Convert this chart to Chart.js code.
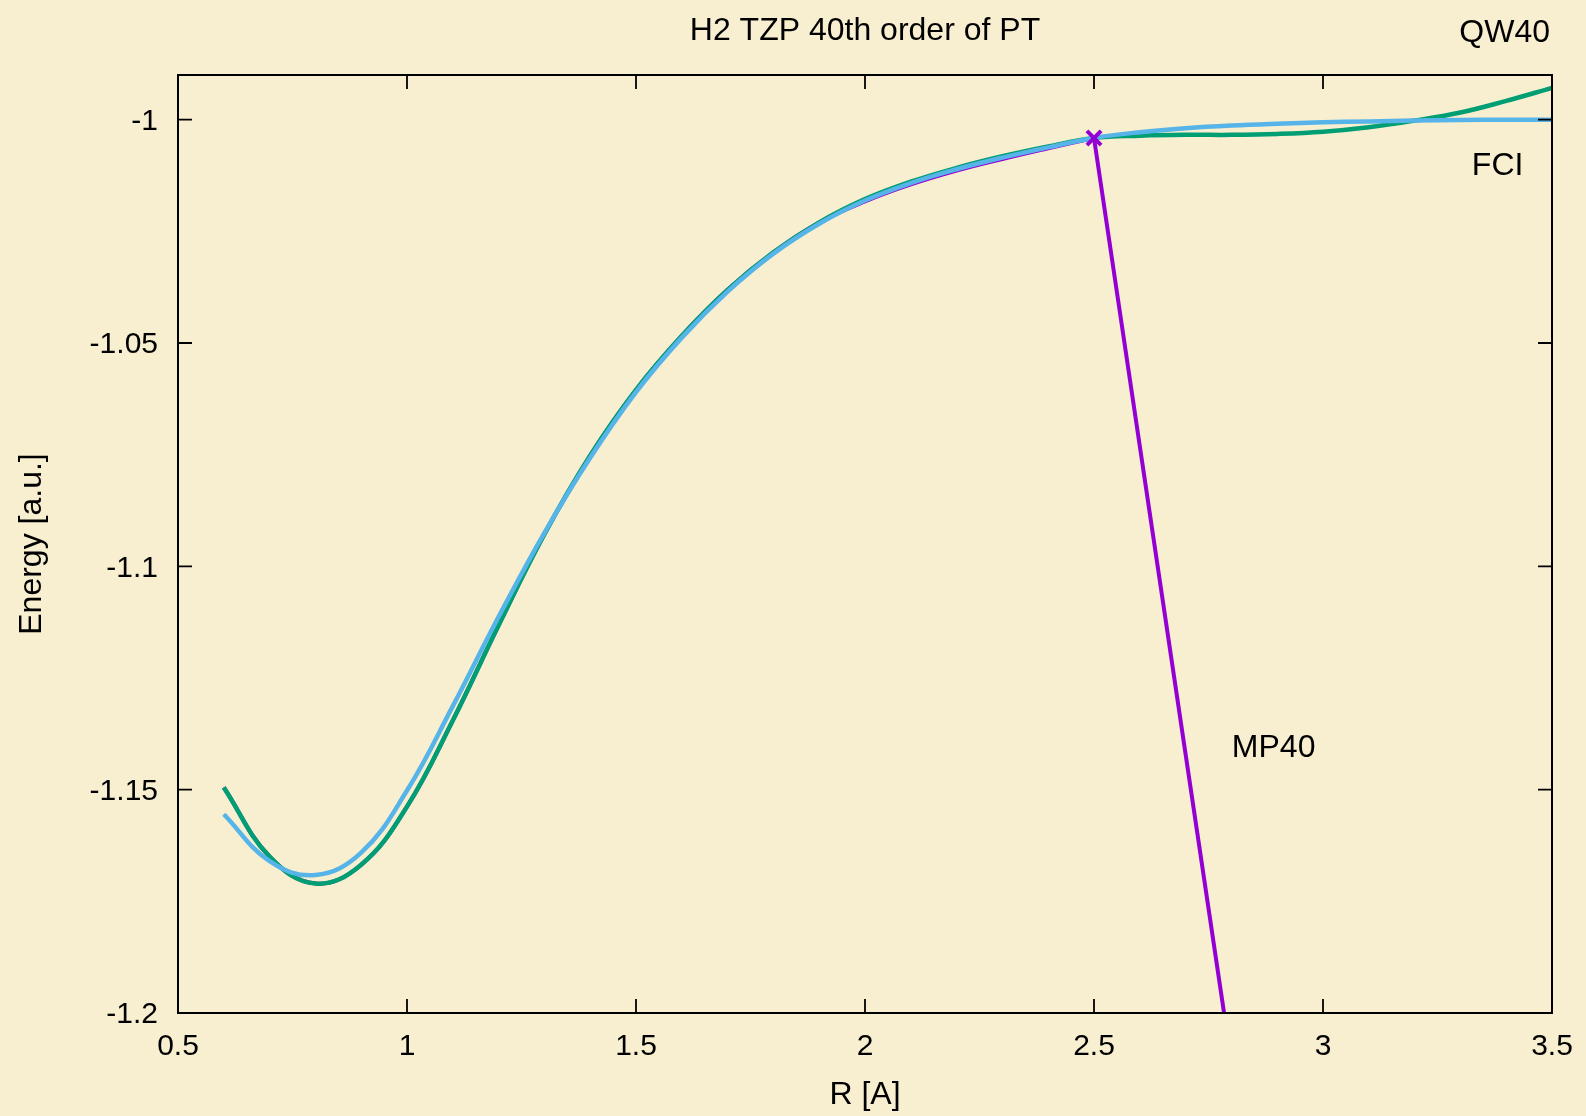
<!DOCTYPE html>
<html>
<head>
<meta charset="utf-8">
<title>H2 TZP 40th order of PT</title>
<script src="https://cdn.jsdelivr.net/npm/chart.js@4.4.1/dist/chart.umd.min.js"></script>
<style>
  html, body { margin: 0; padding: 0; background: #f8efd0; }
  canvas { display: block; }
</style>
</head>
<body>
<canvas id="pes" width="1586" height="1116"></canvas>
<script>
// bond length grid [A]
const rGrid = [0.6, 0.7, 0.8, 0.9, 1.0, 1.1, 1.2, 1.3, 1.4, 1.5, 1.6, 1.7, 1.8, 1.9, 2.0,
  2.1, 2.2, 2.3, 2.4, 2.5, 2.6, 2.7, 2.8, 2.9, 3.0, 3.1, 3.2, 3.3, 3.4, 3.5];

const qw40Energy = [-1.1495, -1.1650, -1.1710, -1.1668, -1.1538, -1.1345, -1.1132, -1.0928,
  -1.0752, -1.0605, -1.0484, -1.0381, -1.0297, -1.0230, -1.0178, -1.0139, -1.0108, -1.0082,
  -1.0060, -1.0041, -1.0036, -1.0034, -1.0034, -1.0032, -1.0027, -1.0017, -1.0002, -0.9984,
  -0.9958, -0.9929];

const fciEnergy = [-1.1555, -1.1660, -1.1691, -1.1641, -1.1502, -1.1313, -1.1113, -1.0925,
  -1.0757, -1.0610, -1.0488, -1.0385, -1.0300, -1.0233, -1.0181, -1.0142, -1.0111, -1.0085,
  -1.0062, -1.0041, -1.0028, -1.0019, -1.0013, -1.0009, -1.0006, -1.0004, -1.0002, -1.0001,
  -1.0000, -1.0000];

// MP40 only converges up to 2.5 A, the next point blows up
const mp40R = [0.6, 0.7, 0.8, 0.9, 1.0, 1.1, 1.2, 1.3, 1.4, 1.5, 1.6, 1.7, 1.8, 1.9, 2.0,
  2.1, 2.2, 2.3, 2.4, 2.5, 3.0];
const mp40Energy = [-1.1495, -1.1650, -1.1710, -1.1668, -1.1538, -1.1345, -1.1132, -1.0928,
  -1.0752, -1.0605, -1.0484, -1.0381, -1.0297, -1.0230, -1.0183, -1.0145, -1.0114, -1.0088,
  -1.0064, -1.0041, -1.3490];

const xTicks = [0.5, 1, 1.5, 2, 2.5, 3, 3.5];
const xTickLabels = ['0.5', '1', '1.5', '2', '2.5', '3', '3.5'];
const yTicks = [-1.2, -1.15, -1.1, -1.05, -1];
const yTickLabels = ['-1.2', '-1.15', '-1.1', '-1.05', '-1'];

const chartTitle = 'H2 TZP 40th order of PT';
const cornerLabel = 'QW40';
const curveLabels = [
  { text: 'FCI', r: 3.325, e: -1.0103 },
  { text: 'MP40', r: 2.801, e: -1.1406 },
];

const BG = '#f8efd0';
const PURPLE = '#9400d3';
const GREEN = '#009e73';
const BLUE = '#56b4e9';
const FONT = '"Liberation Sans", Arial, Helvetica, sans-serif';
const TICK = 14;

const toPoints = (xs, ys) => xs.map((x, i) => ({ x, y: ys[i] }));
const mp40Points = toPoints(mp40R, mp40Energy);

const gnuplotFrame = {
  id: 'gnuplotFrame',
  beforeDraw(chart) {
    const { ctx, width, height } = chart;
    ctx.save();
    ctx.fillStyle = BG;
    ctx.fillRect(0, 0, width, height);
    ctx.restore();
  },
  afterDatasetsDraw(chart) {
    const { ctx, chartArea: a, scales: { x, y } } = chart;
    ctx.save();
    ctx.strokeStyle = '#000';
    ctx.lineWidth = 2;
    ctx.strokeRect(a.left, a.top, a.right - a.left, a.bottom - a.top);

    ctx.lineWidth = 1.8;
    ctx.beginPath();
    xTicks.forEach((v) => {
      const px = x.getPixelForValue(v);
      ctx.moveTo(px, a.bottom);
      ctx.lineTo(px, a.bottom - TICK);
      ctx.moveTo(px, a.top);
      ctx.lineTo(px, a.top + TICK);
    });
    yTicks.forEach((v) => {
      const py = y.getPixelForValue(v);
      ctx.moveTo(a.left, py);
      ctx.lineTo(a.left + TICK, py);
      ctx.moveTo(a.right, py);
      ctx.lineTo(a.right - TICK, py);
    });
    ctx.stroke();

    ctx.fillStyle = '#000';
    ctx.font = '32px ' + FONT;
    ctx.textBaseline = 'middle';
    ctx.textAlign = 'center';
    ctx.fillText(chartTitle, (a.left + a.right) / 2, 31);
    ctx.textAlign = 'right';
    ctx.fillText(cornerLabel, a.right - 2, 33);
    ctx.textAlign = 'left';
    curveLabels.forEach((l) => {
      ctx.fillText(l.text, x.getPixelForValue(l.r), y.getPixelForValue(l.e));
    });
    ctx.restore();
  },
};

const tickFont = { family: FONT, size: 30 };
const titleFont = { family: FONT, size: 32 };

new Chart(document.getElementById('pes'), {
  type: 'line',
  data: {
    datasets: [
      {
        label: 'MP40 (diverging)',
        data: mp40Points.filter((p) => p.x >= 2.5),
        borderColor: PURPLE,
        backgroundColor: PURPLE,
        borderWidth: 4,
        tension: 0,
        pointStyle: 'crossRot',
        pointRadius: (c) => (c.dataIndex === 0 ? 10 : 0),
        pointBorderWidth: 4,
        pointBorderColor: PURPLE,
      },
      {
        label: 'FCI',
        data: toPoints(rGrid, fciEnergy),
        borderColor: BLUE,
        borderWidth: 4.5,
        tension: 0.4,
        pointRadius: 0,
      },
      {
        label: 'QW40',
        data: toPoints(rGrid, qw40Energy),
        borderColor: GREEN,
        borderWidth: 4.5,
        tension: 0.4,
        pointRadius: 0,
      },
      {
        label: 'MP40',
        data: mp40Points.filter((p) => p.x <= 2.5),
        borderColor: PURPLE,
        borderWidth: 4,
        tension: 0.4,
        pointRadius: 0,
      },
    ],
  },
  options: {
    responsive: false,
    animation: false,
    events: [],
    layout: { padding: { top: 75, right: 34, bottom: 0, left: 0 } },
    plugins: {
      legend: { display: false },
      title: { display: false },
      tooltip: { enabled: false },
    },
    scales: {
      x: {
        type: 'linear',
        min: 0.5,
        max: 3.5,
        grid: { display: false, drawTicks: false },
        border: { display: false },
        afterBuildTicks: (s) => { s.ticks = xTicks.map((v) => ({ value: v })); },
        afterFit: (s) => {
          s.height = 103;
          s.paddingLeft = 0;
          s.paddingRight = 0;
        },
        ticks: {
          color: '#000',
          font: tickFont,
          padding: 16,
          maxRotation: 0,
          autoSkip: false,
          callback: (v, i) => xTickLabels[i],
        },
        title: {
          display: true,
          text: 'R [A]',
          color: '#000',
          font: titleFont,
          padding: { top: 0, bottom: 2 },
        },
      },
      y: {
        type: 'linear',
        min: -1.2,
        max: -0.99,
        grid: { display: false, drawTicks: false },
        border: { display: false },
        afterBuildTicks: (s) => { s.ticks = yTicks.map((v) => ({ value: v })); },
        afterFit: (s) => {
          s.width = 178;
          s.paddingTop = 0;
          s.paddingBottom = 0;
        },
        ticks: {
          color: '#000',
          font: tickFont,
          padding: 20,
          labelOffset: 2,
          autoSkip: false,
          callback: (v, i) => yTickLabels[i],
        },
        title: {
          display: true,
          text: 'Energy [a.u.]',
          color: '#000',
          font: titleFont,
          padding: { top: 13, bottom: 0 },
        },
      },
    },
  },
  plugins: [gnuplotFrame],
});
</script>
</body>
</html>
